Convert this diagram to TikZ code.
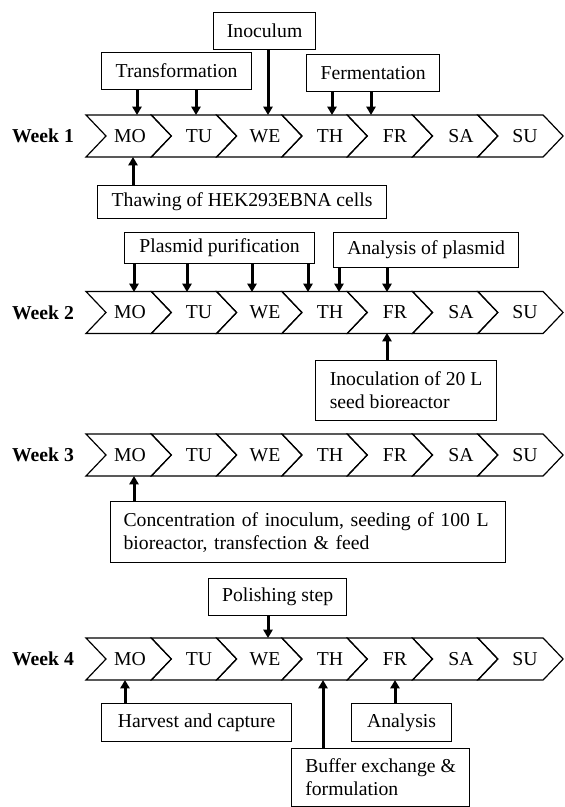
\documentclass[tikz,border=0pt]{standalone}
\usepackage{fontspec}
\setmainfont{Liberation Serif}
\usetikzlibrary{arrows.meta}
\begin{document}
\begin{tikzpicture}[x=0.5pt,y=-0.5pt,
  font=\fontsize{9.85}{11.5}\selectfont,
  box/.style={draw,line width=0.6pt,inner sep=0pt,anchor=north west},
  twoline/.style={box,align=left},
  chev/.style={draw,line width=0.6pt,line join=miter},
  arr/.style={line width=1.5pt,-{Triangle[length=4.2pt,width=4.6pt]}},
  weeklbl/.style={font=\fontsize{9.85}{11.5}\selectfont\bfseries},
  daylbl/.style={inner sep=0pt}]
\useasboundingbox (0,0) rectangle (564,807);

% chevron rows
\foreach \r/\m in {1/136,2/312.5,3/455,4/659}{
  \foreach \i in {0,...,6}{
    \pgfmathsetmacro{\xo}{86+65.3*\i}
    \draw[chev] (\xo,\m-21) -- ++(65.3,0) -- ++(20,21) -- ++(-20,21) -- ++(-65.3,0) -- ++(20,-21) -- cycle;
  }
  \node[weeklbl] (wk\r) at (43,\m) {Week \r};
  \foreach \d/\t/\cx in {0/MO/130,1/TU/199,2/WE/265,3/TH/330,4/FR/395,5/SA/461,6/SU/525}{
    \node[daylbl] (w\r d\d) at (\cx,\m) {\t};
  }
}

% ---------- Week 1 ----------
\node[box,minimum width=51pt,minimum height=18.5pt] (inoc) at (213,12) {Inoculum};
\node[box,minimum width=75pt,minimum height=18.5pt] (trans) at (101,52) {Transformation};
\node[box,minimum width=66.5pt,minimum height=18.5pt] (ferm) at (306,54) {Fermentation};
\node[box,minimum width=144.5pt,minimum height=16.5pt] (thaw) at (97,185) {Thawing of HEK293EBNA cells};

\coordinate (a11) at (137,115);
\coordinate (a12) at (196,115);
\coordinate (a13) at (268,115);
\coordinate (a14) at (332,115);
\coordinate (a15) at (371,115);
\coordinate (b11) at (133,157);
\draw[arr] (trans.south -| a11) -- (a11);
\draw[arr] (trans.south -| a12) -- (a12);
\draw[arr] (inoc.south -| a13) -- (a13);
\draw[arr] (ferm.south -| a14) -- (a14);
\draw[arr] (ferm.south -| a15) -- (a15);
\draw[arr] (thaw.north -| b11) -- (b11);

% ---------- Week 2 ----------
\node[box,minimum width=95pt,minimum height=15.5pt] (plas) at (124,232) {Plasmid purification};
\node[box,minimum width=92.5pt,minimum height=17.5pt] (anapl) at (333,232) {Analysis of plasmid};
\node[twoline,minimum width=90.5pt,minimum height=30pt] (inocul) at (315,360) {Inoculation of 20 L\\seed bioreactor};

\coordinate (a21) at (134,292);
\coordinate (a22) at (187,292);
\coordinate (a23) at (252,292);
\coordinate (a24) at (308,292);
\coordinate (a25) at (339,292);
\coordinate (a26) at (387,292);
\coordinate (b21) at (387,333);
\draw[arr] (plas.south -| a21) -- (a21);
\draw[arr] (plas.south -| a22) -- (a22);
\draw[arr] (plas.south -| a23) -- (a23);
\draw[arr] (plas.south -| a24) -- (a24);
\draw[arr] (anapl.south -| a25) -- (a25);
\draw[arr] (anapl.south -| a26) -- (a26);
\draw[arr] (inocul.north -| b21) -- (b21);

% ---------- Week 3 ----------
\node[twoline,minimum width=197.5pt,minimum height=30.5pt,text width=184.5pt,inner xsep=6.5pt] (conc) at (110,501)
  {Concentration of inoculum, seeding of 100 L\\bioreactor, transfection \& feed};
\coordinate (b31) at (134,476);
\draw[arr] (conc.north -| b31) -- (b31);

% ---------- Week 4 ----------
\node[box,minimum width=69pt,minimum height=18.5pt] (pol) at (208,578) {Polishing step};
\node[box,minimum width=95pt,minimum height=19pt] (harv) at (101,703) {Harvest and capture};
\node[box,minimum width=50pt,minimum height=19pt] (ana) at (351,703) {Analysis};
\node[twoline,minimum width=89pt,minimum height=29pt] (buf) at (291,748) {Buffer exchange \&\\formulation};

\coordinate (a41) at (268,638);
\coordinate (b41) at (125,680);
\coordinate (b42) at (323,680);
\coordinate (b43) at (395,680);
\draw[arr] (pol.south -| a41) -- (a41);
\draw[arr] (harv.north -| b41) -- (b41);
\draw[arr] (buf.north -| b42) -- (b42);
\draw[arr] (ana.north -| b43) -- (b43);
\end{tikzpicture}
\end{document}
